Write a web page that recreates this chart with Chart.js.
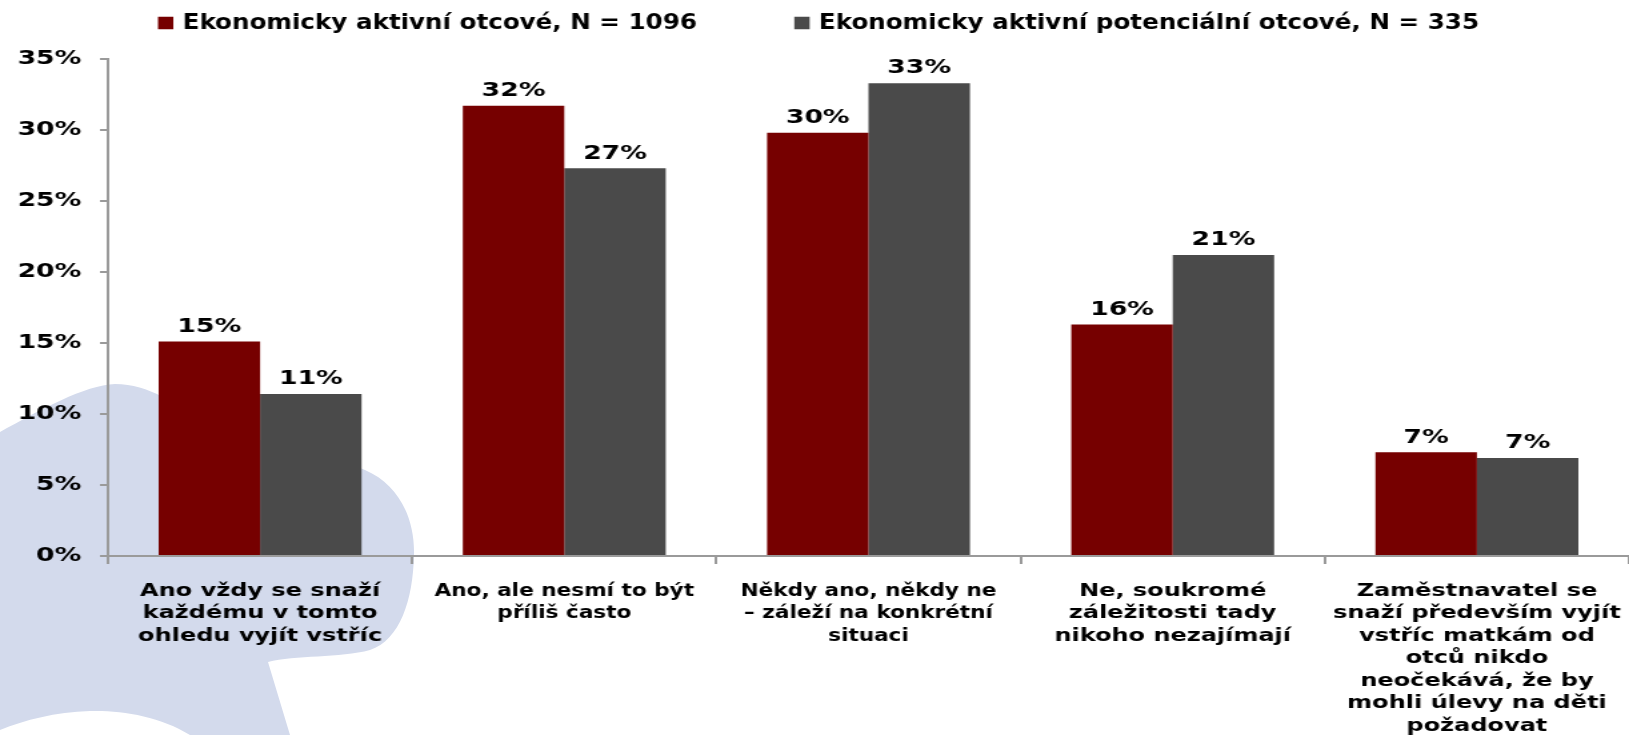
<!DOCTYPE html>
<html>
<head>
<meta charset="utf-8">
<script src="https://cdn.jsdelivr.net/npm/chart.js@4/dist/chart.umd.min.js"></script>
<style>
  html, body { margin: 0; padding: 0; background: #fff; overflow: hidden; }
  #wrap { position: relative; width: 1629px; height: 735px; }
  #blob { position: absolute; left: 0; top: 0; z-index: 0; }
  #c { position: absolute; left: 0; top: 0; z-index: 1; }
</style>
</head>
<body>
<div id="wrap">
  <svg id="blob" width="1629" height="735" viewBox="0 0 1629 735">
    <path d="M0,432 C40,410 85,385 115,384 C150,384 175,405 205,420 C260,445 330,455 365,470 C400,485 415,520 414,555 C413,600 400,640 370,650 C340,658 295,655 268,662 L290,735 L190,735 C160,716 120,710 90,711 C55,712 25,720 0,730 Z" fill="#d3daec"/>
  </svg>
  <canvas id="c" width="1222" height="735" style="width:1629px;height:735px;"></canvas>
</div>
<script>
// ---- data ----
const categories = [
  ['Ano vždy se snaží', 'každému v tomto', 'ohledu vyjít vstříc'],
  ['Ano, ale nesmí to být', 'příliš často'],
  ['Někdy ano, někdy ne', '– záleží na konkrétní', 'situaci'],
  ['Ne, soukromé', 'záležitosti tady', 'nikoho nezajímají'],
  ['Zaměstnavatel se', 'snaží především vyjít', 'vstříc matkám od', 'otců nikdo', 'neočekává, že by', 'mohli úlevy na děti', 'požadovat']
];
const seriesNames = ['Ekonomicky aktivní otcové, N = 1096', 'Ekonomicky aktivní potenciální otcové, N = 335'];
const otcove = [15.1, 31.7, 29.8, 16.3, 7.3];
const potencialni = [11.4, 27.3, 33.3, 21.2, 6.9];
const yTicks = [0, 5, 10, 15, 20, 25, 30, 35];

const WIDE = "'DejaVu Sans', Verdana, sans-serif";
const NARROW = "'DejaVu Sans Condensed', 'DejaVu Sans', sans-serif";
const narrowCats = [1, 2];

const valueLabels = {
  id: 'valueLabels',
  afterDatasetsDraw(chart) {
    const ctx = chart.ctx;
    ctx.save();
    ctx.font = "bold 20px " + WIDE;
    ctx.fillStyle = '#000';
    ctx.textAlign = 'center';
    ctx.textBaseline = 'bottom';
    chart.data.datasets.forEach((ds, i) => {
      chart.getDatasetMeta(i).data.forEach((el, j) => {
        ctx.fillText(Math.round(ds.data[j]) + '%', el.x, el.y - 5);
      });
    });
    ctx.restore();
  }
};

const topLegend = {
  id: 'topLegend',
  afterDraw(chart) {
    const ctx = chart.ctx;
    ctx.save();
    ctx.font = "bold 20.5px " + NARROW;
    ctx.textBaseline = 'middle';
    ctx.textAlign = 'left';
    const sq = 11.5, sqH = 12.5, gap = 7, itemGap = 73, cy = 23;
    const items = chart.data.datasets.map(ds => ({ t: ds.label, c: ds.backgroundColor, w: ctx.measureText(ds.label).width }));
    let total = 0;
    items.forEach((it, i) => { total += sq + gap + it.w + (i < items.length - 1 ? itemGap : 0); });
    let x = (chart.width - total) / 2 + 3;
    items.forEach(it => {
      ctx.fillStyle = it.c;
      ctx.fillRect(x, cy - sqH / 2, sq, sqH);
      x += sq + gap;
      ctx.fillStyle = '#000';
      ctx.fillText(it.t, x, cy + 1);
      x += it.w + itemGap;
    });
    ctx.restore();
  }
};

new Chart(document.getElementById('c'), {
  type: 'bar',
  data: {
    labels: categories,
    datasets: [
      { label: seriesNames[0], data: otcove, backgroundColor: '#760000', categoryPercentage: 0.667, barPercentage: 1.0 },
      { label: seriesNames[1], data: potencialni, backgroundColor: '#4a4a4a', categoryPercentage: 0.667, barPercentage: 1.0 }
    ]
  },
  options: {
    responsive: false,
    animation: false,
    layout: { padding: { top: 59, left: 0, right: 0, bottom: 0 } },
    plugins: { legend: { display: false }, tooltip: { enabled: false } },
    scales: {
      x: {
        border: { display: true, color: '#9a9a9a', width: 2 },
        grid: { display: true, drawOnChartArea: false, drawTicks: true, tickLength: 8, color: '#9a9a9a', lineWidth: 2, offset: true },
        ticks: {
          color: '#000',
          padding: 16,
          maxRotation: 0,
          autoSkip: false,
          font: (c) => ({ family: narrowCats.includes(c.index) ? NARROW : WIDE, size: 18, weight: 'bold', lineHeight: 1.25 })
        },
        afterFit: (s) => { s.paddingLeft = 0; s.paddingRight = 0; s.height = 179; }
      },
      y: {
        min: 0, max: 35,
        border: { display: true, color: '#9a9a9a', width: 2 },
        grid: { display: true, drawOnChartArea: false, drawTicks: true, tickLength: 6, color: '#9a9a9a', lineWidth: 2 },
        afterBuildTicks: (s) => { s.ticks = yTicks.map(v => ({ value: v })); },
        ticks: {
          color: '#000',
          padding: 14,
          font: { family: WIDE, size: 20, weight: 'bold' },
          callback: (v) => v + '%'
        },
        afterFit: (s) => { s.width = 81; }
      }
    }
  },
  plugins: [valueLabels, topLegend]
});
</script>
</body>
</html>
